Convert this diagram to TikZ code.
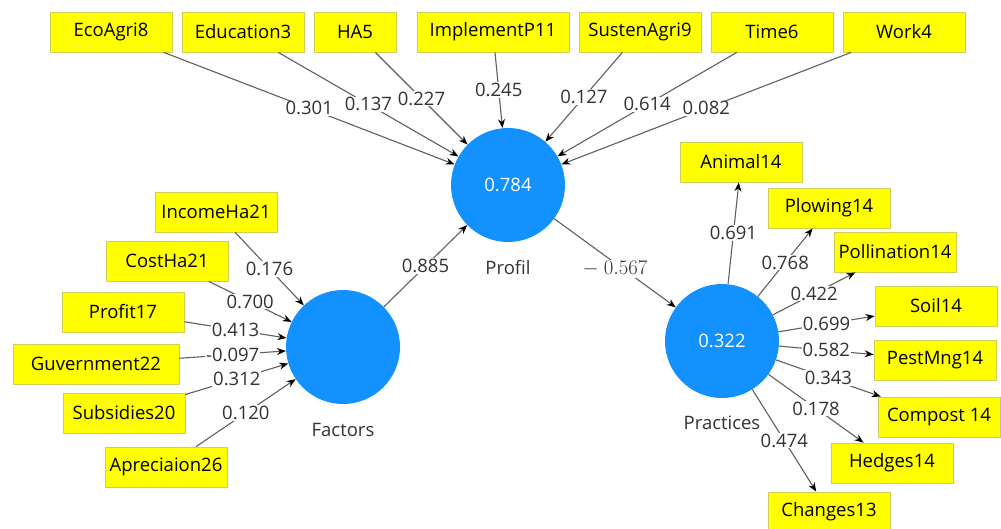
\documentclass[tikz,border=0pt]{standalone}
\usepackage{fontspec}
\setmainfont{Open Sans}
\usetikzlibrary{arrows.meta}
\definecolor{lvblue}{RGB}{18,145,255}
\definecolor{boxyellow}{RGB}{255,255,0}
\definecolor{boxedge}{RGB}{205,205,90}
\definecolor{edgegray}{RGB}{95,95,95}
\definecolor{labelgray}{RGB}{50,50,50}
\newcommand\figfont{\fontsize{18.5}{22}\selectfont}
\tikzset{
  indic/.style={draw=boxedge, line width=0.8pt, fill=boxyellow, minimum width=122pt, minimum height=40pt, inner sep=0pt, font=\figfont, text=black},
  latent/.style={circle, fill=lvblue, minimum size=114pt, inner sep=0pt, text=white, font=\figfont},
  lvname/.style={text=labelgray, font=\figfont},
  conn/.style={draw=edgegray, line width=1.1pt, -{Stealth[length=9pt,width=7pt,color=black]}},
  coef/.style={fill=white, inner sep=1pt, text=labelgray, font=\figfont}
}
\begin{document}
\begin{tikzpicture}[x=1pt,y=-1pt]
\useasboundingbox (0,0) rectangle (1001,528);
% latent variables
\node[latent] (prof) at (508,185) {0.784};
\node[latent] (fact) at (343,347) {};
\node[latent] (prac) at (722,341) {0.322};
\node[lvname] (profl) at (508,268) {Profil};
\node[lvname] (factl) at (343,430) {Factors};
\node[lvname] (pracl) at (722,423) {Practices};
% top indicators
\node[indic] (eco) at (111,32) {EcoAgri8};
\node[indic] (edu) at (243,32) {Education3};
\node[indic, minimum width=82pt] (ha) at (355,32) {HA5};
\node[indic, minimum width=152pt] (imp) at (493,32) {ImplementP11};
\node[indic] (sus) at (640,32) {SustenAgri9};
\node[indic] (tim) at (772,32) {Time6};
\node[indic] (wrk) at (904,32) {Work4};
% factor indicators
\node[indic] (inc) at (216,212) {IncomeHa21};
\node[indic] (cst) at (167,261) {CostHa21};
\node[indic] (pft) at (123,312) {Profit17};
\node[indic, minimum width=166pt] (guv) at (96,364) {Guvernment22};
\node[indic] (sub) at (124,413) {Subsidies20};
\node[indic] (apr) at (166,467) {Apreciaion26};
% practice indicators
\node[indic] (ani) at (741,162) {Animal14};
\node[indic] (plo) at (829,208) {Plowing14};
\node[indic] (pol) at (895,252) {Pollination14};
\node[indic] (soi) at (936,306) {Soil14};
\node[indic] (pst) at (935,360) {PestMng14};
\node[indic] (cmp) at (939,417) {Compost 14};
\node[indic] (hed) at (892,463) {Hedges14};
\node[indic] (chg) at (829,512) {Changes13};
% connectors to Profil
\draw[conn] (eco) -- node[coef] {0.301} (prof);
\draw[conn] (edu) -- node[coef] {0.137} (prof);
\draw[conn] (ha) -- node[coef] {0.227} (prof);
\draw[conn] (imp) -- node[coef] {0.245} (prof);
\draw[conn] (sus) -- node[coef] {0.127} (prof);
\draw[conn] (tim) -- node[coef] {0.614} (prof);
\draw[conn] (wrk) -- node[coef] {0.082} (prof);
% connectors to Factors
\draw[conn] (inc) -- node[coef] {0.176} (fact);
\draw[conn] (cst) -- node[coef] {0.700} (fact);
\draw[conn] (pft) -- node[coef] {0.413} (fact);
\draw[conn] (guv) -- node[coef] {-0.097} (fact);
\draw[conn] (sub) -- node[coef] {0.312} (fact);
\draw[conn] (apr) -- node[coef] {0.120} (fact);
% structural
\draw[conn] (fact) -- node[coef] {0.885} (prof);
\draw[conn] (prof) -- node[coef, yshift=-6pt, font=\fontsize{20}{24}\selectfont] {$-$ $0.567$} (prac);
% connectors from Practices
\draw[conn] (prac) -- node[coef] {0.691} (ani);
\draw[conn] (prac) -- node[coef] {0.768} (plo);
\draw[conn] (prac) -- node[coef] {0.422} (pol);
\draw[conn] (prac) -- node[coef] {0.699} (soi);
\draw[conn] (prac) -- node[coef] {0.582} (pst);
\draw[conn] (prac) -- node[coef] {0.343} (cmp);
\draw[conn] (prac) -- node[coef] {0.178} (hed);
\draw[conn] (prac) -- node[coef] {0.474} (chg);
\end{tikzpicture}
\end{document}
